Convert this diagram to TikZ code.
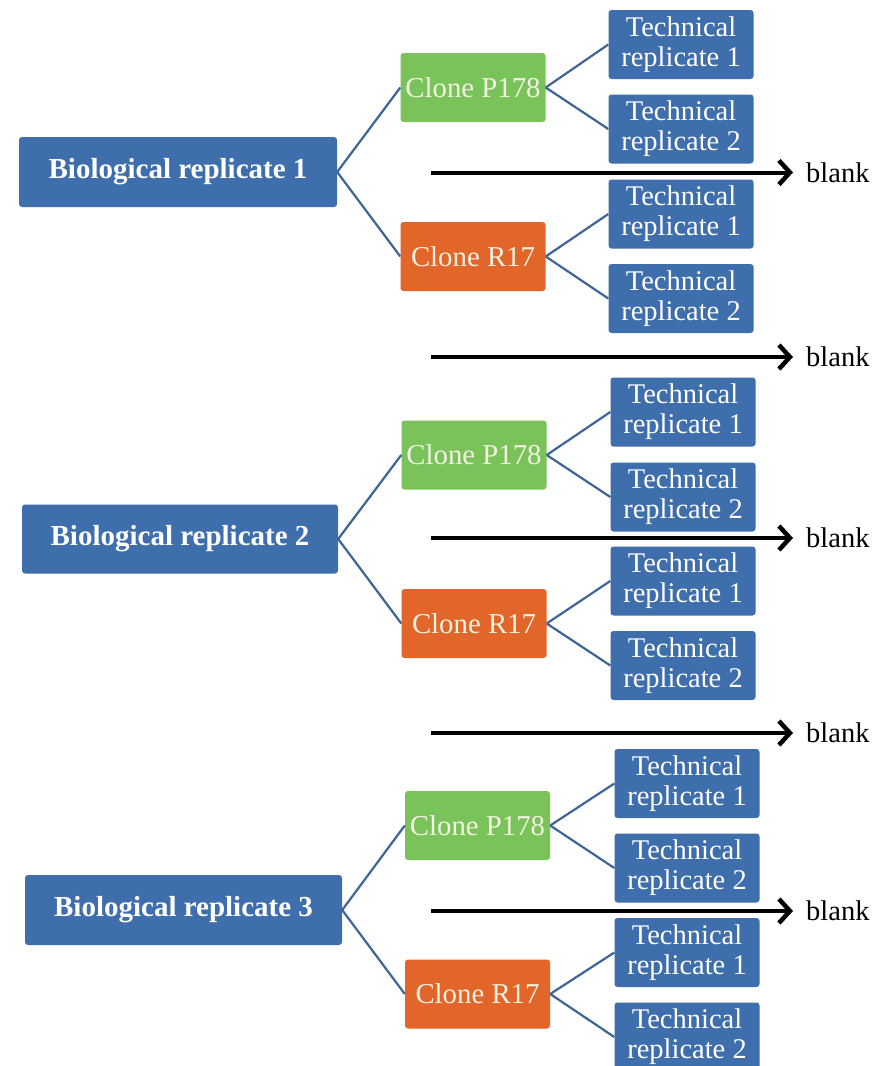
\documentclass[tikz,border=0pt]{standalone}
\usepackage{fontspec}
\setmainfont{Liberation Serif}
\usetikzlibrary{arrows.meta}
\definecolor{boxblue}{HTML}{3E6EAB}
\definecolor{boxgreen}{HTML}{7AC35A}
\definecolor{boxorange}{HTML}{E2652A}
\definecolor{linkblue}{HTML}{3F6497}
\definecolor{clonetext}{HTML}{F3F3E2}
\tikzset{
  biobox/.style={rectangle, rounded corners=3pt, fill=boxblue, text=white, minimum width=318pt, minimum height=70pt, inner sep=0pt, font=\fontsize{29}{32}\selectfont\bfseries},
  clonebox/.style={rectangle, rounded corners=3pt, text=clonetext, minimum width=145pt, minimum height=69pt, inner sep=0pt, font=\fontsize{28.8}{31}\selectfont},
  techbox/.style={rectangle, rounded corners=3pt, fill=boxblue, text=white, minimum width=145pt, minimum height=69pt, inner sep=0pt, align=center, font=\fontsize{28.5}{30}\selectfont},
  link/.style={draw=linkblue, line width=2.2pt},
  blankarrow/.style={draw=black, line width=4pt, -{Straight Barb[length=11pt,width=24pt,line width=4.5pt]}},
  blanklabel/.style={anchor=west, inner sep=0pt, font=\fontsize{28.5}{31}\selectfont}
}
\begin{document}
\begin{tikzpicture}[x=1pt,y=-1pt]
\useasboundingbox (0,0) rectangle (878,1066);
\fill[white] (0,0) rectangle (878,1066);

% ---------- group 1 ----------
\node[biobox] (b1) at (178,172) {Biological replicate 1};
\node[clonebox, fill=boxgreen] (p1) at (473,87.5) {Clone P178};
\node[clonebox, fill=boxorange] (r1) at (473,256.5) {Clone R17};
\node[techbox] (t11) at (681,44.5) {Technical\\replicate 1};
\node[techbox] (t12) at (681,129) {Technical\\replicate 2};
\node[techbox] (t13) at (681,214) {Technical\\replicate 1};
\node[techbox] (t14) at (681,298.5) {Technical\\replicate 2};
\draw[link] (b1.east) -- (p1.west);
\draw[link] (b1.east) -- (r1.west);
\draw[link] (p1.east) -- (t11.west);
\draw[link] (p1.east) -- (t12.west);
\draw[link] (r1.east) -- (t13.west);
\draw[link] (r1.east) -- (t14.west);

\coordinate (a1s) at (431,172.5);
\node[blanklabel] (l1) at (806,172.5) {blank};
\draw[blankarrow] (a1s) -- (l1.west -| 793,0);

\coordinate (a2s) at (431,357);
\node[blanklabel] (l2) at (806,357) {blank};
\draw[blankarrow] (a2s) -- (l2.west -| 793,0);

% ---------- group 2 ----------
\node[biobox, minimum width=316pt, minimum height=69pt] (b2) at (180,539) {Biological replicate 2};
\node[clonebox, fill=boxgreen] (p2) at (474,455) {Clone P178};
\node[clonebox, fill=boxorange] (r2) at (474,623.5) {Clone R17};
\node[techbox] (t21) at (683,412) {Technical\\replicate 1};
\node[techbox] (t22) at (683,497) {Technical\\replicate 2};
\node[techbox] (t23) at (683,581) {Technical\\replicate 1};
\node[techbox] (t24) at (683,665.5) {Technical\\replicate 2};
\draw[link] (b2.east) -- (p2.west);
\draw[link] (b2.east) -- (r2.west);
\draw[link] (p2.east) -- (t21.west);
\draw[link] (p2.east) -- (t22.west);
\draw[link] (r2.east) -- (t23.west);
\draw[link] (r2.east) -- (t24.west);

\coordinate (a3s) at (431,538);
\node[blanklabel] (l3) at (806,538) {blank};
\draw[blankarrow] (a3s) -- (l3.west -| 793,0);

\coordinate (a4s) at (431,733);
\node[blanklabel] (l4) at (806,733) {blank};
\draw[blankarrow] (a4s) -- (l4.west -| 793,0);

% ---------- group 3 ----------
\node[biobox, minimum width=317pt] (b3) at (183.5,910) {Biological replicate 3};
\node[clonebox, fill=boxgreen] (p3) at (477.5,825.5) {Clone P178};
\node[clonebox, fill=boxorange] (r3) at (477.5,994) {Clone R17};
\node[techbox] (t31) at (687,783.5) {Technical\\replicate 1};
\node[techbox] (t32) at (687,868) {Technical\\replicate 2};
\node[techbox] (t33) at (687,952.5) {Technical\\replicate 1};
\node[techbox] (t34) at (687,1037) {Technical\\replicate 2};
\draw[link] (b3.east) -- (p3.west);
\draw[link] (b3.east) -- (r3.west);
\draw[link] (p3.east) -- (t31.west);
\draw[link] (p3.east) -- (t32.west);
\draw[link] (r3.east) -- (t33.west);
\draw[link] (r3.east) -- (t34.west);

\coordinate (a5s) at (431,911);
\node[blanklabel] (l5) at (806,911) {blank};
\draw[blankarrow] (a5s) -- (l5.west -| 793,0);
\end{tikzpicture}
\end{document}
